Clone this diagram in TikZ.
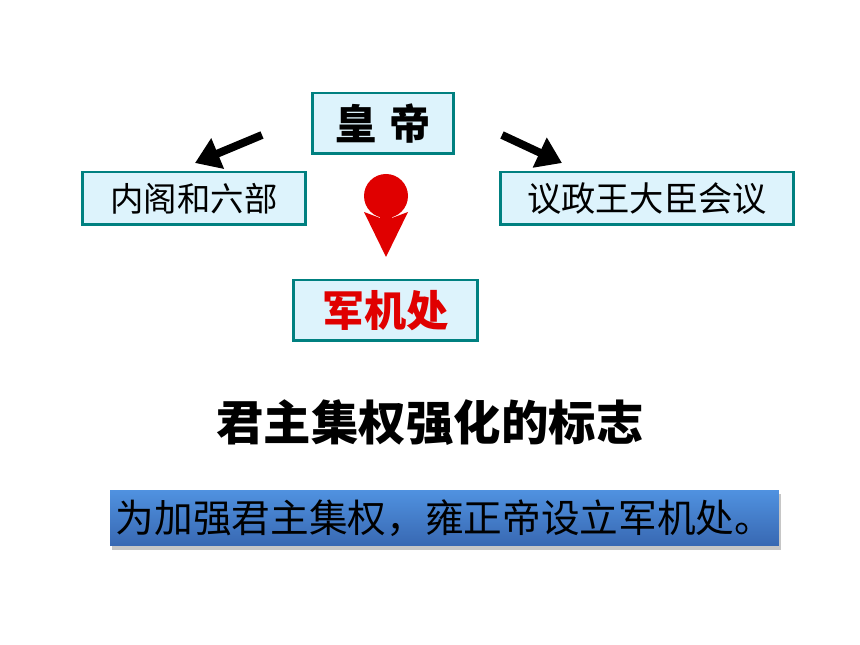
\documentclass[tikz,border=0pt]{standalone}
\usepackage{fontspec}
\newfontfamily\cjk{Noto Sans CJK SC}
\usetikzlibrary{arrows.meta,shadows}
\definecolor{boxfill}{RGB}{221,243,252}
\definecolor{boxline}{RGB}{0,128,128}
\definecolor{pinred}{RGB}{224,0,0}
\definecolor{bannertop}{RGB}{80,146,224}
\definecolor{bannerbot}{RGB}{56,104,178}
\tikzset{
  office/.style={draw=boxline, fill=boxfill, line width=1.7pt, inner sep=0pt},
  push/.style={line width=4.5pt, -{Triangle[length=14pt,width=18pt]}},
}
\begin{document}
\begin{tikzpicture}[x=0.02cm, y=-0.02cm, font=\cjk]
        \useasboundingbox (0,0) rectangle (860,645);
        % the offices
        \node[office, minimum width=2.84cm, minimum height=1.22cm, font=\cjk\bfseries\fontsize{23.5}{23.5}\selectfont] (huangdi) at (383,123.5) {皇\hspace{0.3em}帝};
        \node[office, minimum width=4.48cm, minimum height=1.06cm, font=\cjk\fontsize{19}{19}\selectfont] (neige) at (194,198.5) {内阁和六部};
        \node[office, minimum width=5.88cm, minimum height=1.06cm, font=\cjk\fontsize{19.5}{19.5}\selectfont] (yizheng) at (647,198.5) {议政王大臣会议};
        \node[office, minimum width=3.7cm, minimum height=1.22cm, text=pinred, font=\cjk\bfseries\fontsize{24}{24}\selectfont] (junji) at (385.5,310.5) {军机处};
        % black arrows
        \coordinate (lfrom) at (262,135);
        \coordinate (lto) at (195,163);
        \coordinate (rfrom) at (502,135);
        \coordinate (rto) at (562,163);
        \draw[push] (lfrom) -- (lto);
        \draw[push] (rfrom) -- (rto);
        % red pin
        \coordinate (pin) at (386,196);
        \fill[pinred] (pin) circle (22);
        \fill[pinred] (380,205) -- (380,218) -- (364,212) -- (386,257) -- (408,212) -- (392,218) -- (392,205) -- cycle;
        \node[font=\cjk\bfseries\fontsize{27}{27}\selectfont] (title) at (430,423) {君主集权强化的标志};
        \node[top color=bannertop, bottom color=bannerbot, drop shadow={opacity=0.45, shadow xshift=0.04cm, shadow yshift=-0.08cm},
              minimum width=13.38cm, minimum height=1.12cm, font=\cjk\fontsize{22}{22}\selectfont] (banner) at (444.5,518) {为加强君主集权，雍正帝设立军机处。};
    \end{tikzpicture}
\end{document}
